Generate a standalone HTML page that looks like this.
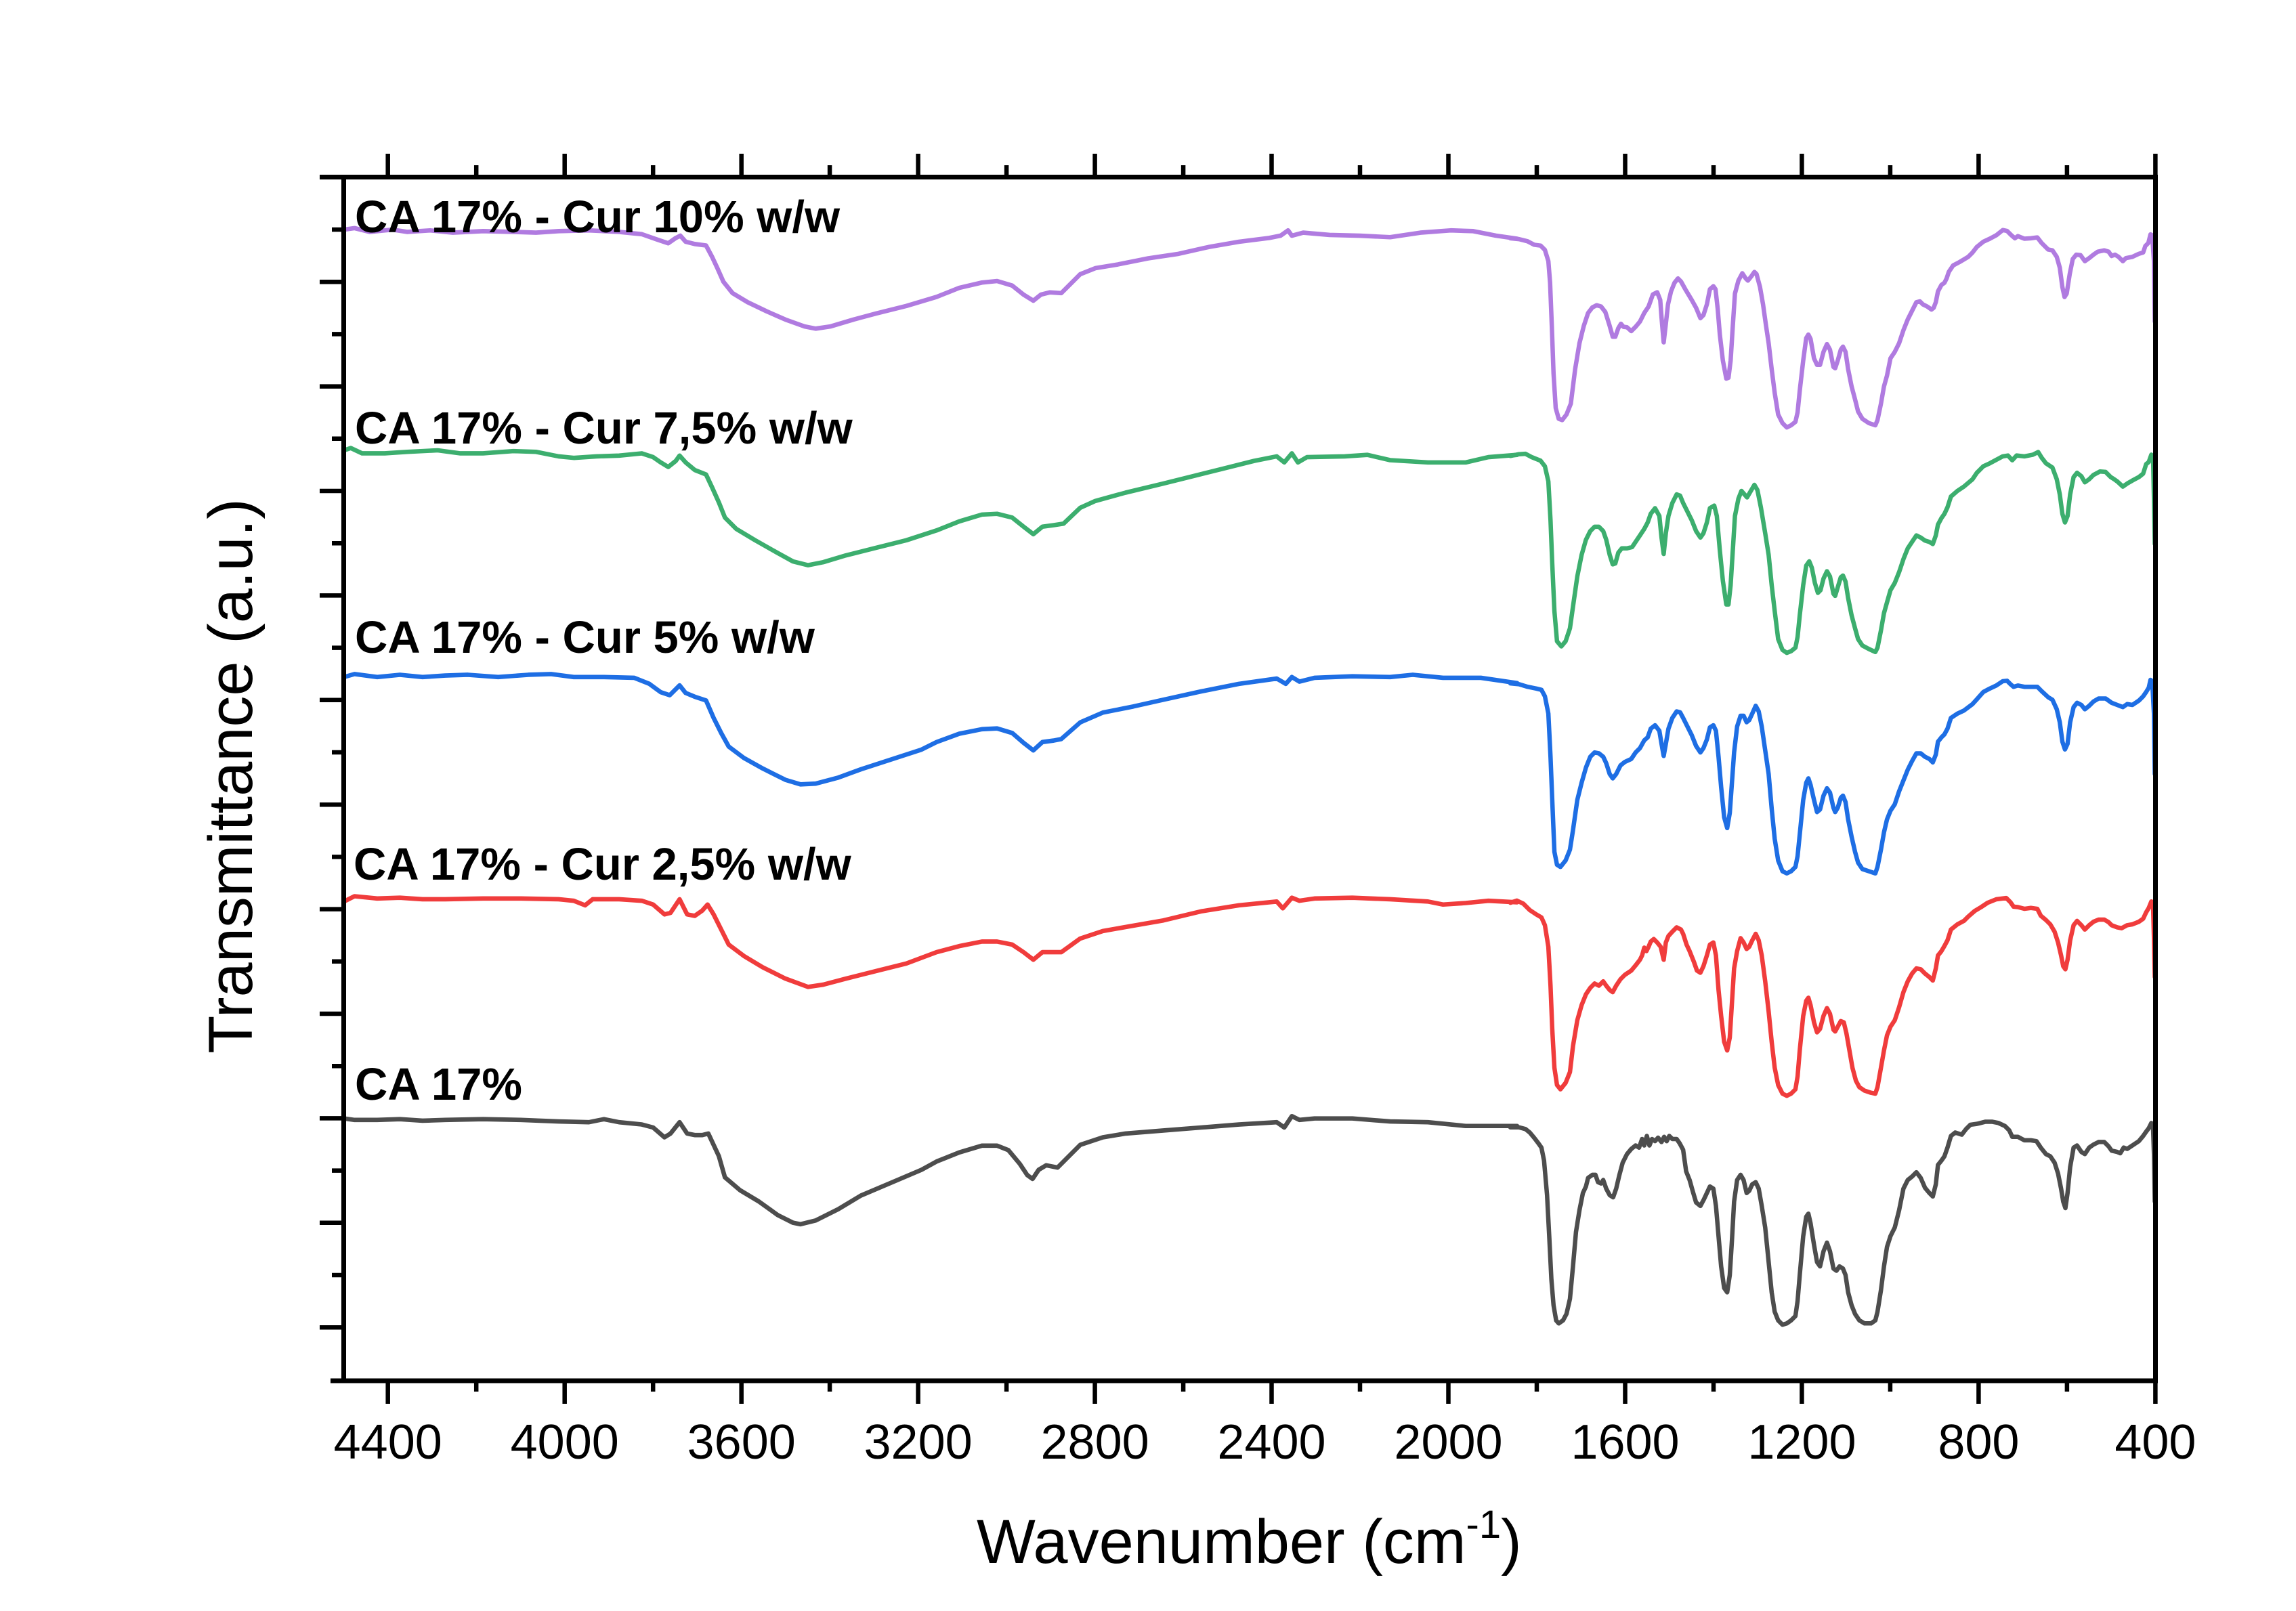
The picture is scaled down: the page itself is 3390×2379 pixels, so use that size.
<!DOCTYPE html>
<html><head><meta charset="utf-8"><style>
html,body{margin:0;padding:0;background:#fff;}
svg{display:block;}
text{font-family:"Liberation Sans",Arial,sans-serif;}
</style></head><body>
<svg xmlns="http://www.w3.org/2000/svg" width="3390" height="2379" viewBox="0 0 3390 2379">
<rect width="3390" height="2379" fill="#fff"/>

<!-- Left part of curves (zoom8 coords) -->
<g transform="translate(490,290) scale(1.11607)" fill="none" stroke-width="5.9" stroke-linejoin="round" stroke-linecap="round">
<polyline stroke="#B07BE0" points="16,44 30,42 50,47 80,44 100,47 130,45 160,48 200,46 240,47 270,48 300,46 340,45 380,47 410,50 430,57 445,62 455,55 461,52 468,60 480,63 495,65 503,80 510,95 518,113 530,128 550,140 575,152 600,163 625,172 640,175 660,172 690,163 720,155 760,145 800,133 830,121 860,114 880,112 900,118 915,130 928,138 938,130 950,127 965,128 975,118 990,103 1010,95 1040,90 1080,82 1120,76 1160,67 1200,60 1240,55 1255,52 1265,45 1270,52 1285,48 1320,51 1360,52 1400,54 1440,48 1480,45 1510,46 1540,52 1568,56"/>
<polyline stroke="#3CAE6E" points="16,336 25,333 40,340 70,340 100,338 140,336 170,340 200,340 240,337 270,338 300,344 320,346 350,344 380,343 410,340 425,345 435,352 445,358 455,350 460,343 468,352 480,362 495,368 503,385 512,405 520,425 535,440 560,455 590,472 610,483 630,488 650,484 680,475 720,465 760,455 800,442 830,430 860,421 880,420 900,425 915,437 928,447 940,437 955,435 968,433 990,412 1010,403 1050,392 1100,380 1140,370 1180,360 1220,350 1250,344 1260,352 1270,340 1278,352 1290,345 1340,344 1370,342 1400,349 1450,352 1500,352 1530,345 1568,342"/>
<polyline stroke="#1E6EE4" points="16,636 30,632 60,636 90,633 120,636 150,634 180,633 220,636 260,633 290,632 320,636 360,636 400,637 420,645 435,656 447,660 460,647 468,657 480,662 495,667 505,690 515,710 525,728 545,743 570,757 600,772 620,778 640,777 670,769 700,758 740,745 780,732 800,722 830,711 860,705 880,704 900,710 915,723 928,733 940,722 955,720 965,718 990,696 1020,683 1060,675 1100,666 1150,655 1200,645 1250,638 1262,645 1270,636 1280,642 1300,637 1350,635 1400,636 1430,633 1470,637 1520,637 1568,644"/>
<polyline stroke="#F03C3C" points="16,933 30,926 60,929 90,928 120,930 150,930 200,929 250,929 300,930 320,932 335,938 345,930 380,930 410,932 425,937 440,950 448,948 460,930 470,950 480,952 490,945 497,937 505,950 515,970 525,990 545,1005 570,1020 600,1035 630,1046 650,1043 680,1035 720,1025 760,1015 800,1000 830,992 860,986 880,986 900,990 915,1000 928,1010 940,1000 955,1000 965,1000 990,982 1020,972 1060,965 1100,958 1150,946 1200,938 1250,933 1258,942 1270,928 1280,932 1300,929 1350,928 1400,930 1450,933 1470,937 1500,935 1530,932 1568,934"/>
<polyline stroke="#4D4D4D" points="16,1220 30,1222 60,1222 90,1221 120,1223 150,1222 200,1221 250,1222 300,1224 340,1225 360,1221 380,1225 410,1228 425,1232 440,1245 448,1240 460,1225 470,1240 480,1242 490,1242 498,1240 505,1255 512,1270 520,1298 540,1315 565,1330 590,1348 610,1358 620,1360 640,1355 670,1340 700,1322 740,1305 780,1288 800,1277 830,1265 860,1256 880,1256 895,1262 910,1280 920,1295 927,1300 935,1288 945,1282 960,1285 975,1270 990,1255 1020,1245 1050,1240 1100,1236 1150,1232 1200,1228 1250,1225 1260,1232 1270,1217 1280,1222 1300,1220 1350,1220 1400,1224 1450,1225 1500,1230 1530,1230 1568,1230"/>
</g>

<!-- Right part: purple & green (zoom6 coords) -->
<g transform="translate(2230,290) scale(0.63776)" fill="none" stroke-width="10.2" stroke-linejoin="round" stroke-linecap="round">
<polyline stroke="#B07BE0" points="0,97 20,99 40,104 55,112 70,114 80,124 88,150 92,200 96,300 100,410 105,490 112,515 120,518 130,505 140,480 150,400 160,340 170,300 180,270 190,257 200,252 210,255 220,268 230,300 237,325 243,325 250,305 256,295 262,302 270,303 280,312 290,302 300,290 310,270 320,255 330,227 340,222 347,240 350,280 355,338 360,295 365,250 372,220 380,200 388,190 395,197 405,215 420,240 430,258 440,282 447,275 455,250 462,215 470,208 475,215 480,260 485,320 492,380 500,422 505,420 510,380 515,300 520,225 528,195 537,178 545,190 550,195 558,185 565,175 570,180 578,210 585,250 592,300 598,340 605,400 612,455 620,505 630,525 640,535 650,530 660,522 665,500 670,450 678,380 685,328 690,320 695,330 703,375 710,390 717,390 725,360 733,342 740,355 748,395 752,398 758,380 765,355 770,348 776,360 782,400 790,440 798,470 805,498 815,515 830,525 845,530 850,518 858,480 865,440 872,415 880,375 890,360 900,340 910,310 920,285 930,265 940,245 948,243 955,250 965,255 975,262 980,258 985,245 990,220 998,205 1005,200 1010,190 1015,175 1025,160 1040,152 1060,140 1070,130 1080,117 1095,105 1110,98 1125,90 1140,78 1150,80 1160,90 1168,97 1175,92 1190,98 1205,97 1220,95 1230,108 1245,123 1255,125 1265,140 1272,165 1278,210 1283,233 1288,225 1295,180 1302,145 1310,135 1320,136 1330,150 1340,143 1350,135 1360,128 1375,125 1385,128 1392,138 1400,135 1408,140 1418,150 1425,143 1440,140 1455,133 1465,130 1470,115 1477,108 1482,88 1486,90 1490,150 1492,290"/>
<polyline stroke="#3CAE6E" points="0,601 20,597 35,596 50,604 70,612 80,625 88,660 93,750 97,850 102,960 108,1030 118,1042 128,1030 138,1000 145,950 155,880 165,830 175,795 185,775 195,765 205,765 215,775 222,795 230,830 237,852 243,850 250,825 258,815 270,815 282,812 290,800 300,785 310,770 318,755 325,735 335,722 345,740 350,790 355,828 360,780 366,740 375,710 385,690 393,693 400,710 410,730 420,750 430,775 440,790 447,780 455,755 462,722 472,716 478,740 485,820 492,890 500,945 505,945 510,900 515,820 520,740 528,700 535,682 542,690 548,697 555,685 565,668 572,680 580,720 590,780 598,830 605,900 612,960 620,1025 630,1050 640,1057 650,1053 660,1045 665,1020 670,970 678,900 685,855 692,845 698,860 705,895 712,918 718,912 725,885 733,868 740,880 748,920 752,925 758,905 765,882 770,878 776,892 782,930 790,970 798,1000 805,1025 815,1040 830,1048 845,1055 850,1045 858,1005 865,965 872,940 880,912 890,895 900,870 910,840 920,815 930,800 940,785 950,790 960,797 970,800 978,805 985,785 990,760 998,745 1005,735 1012,720 1020,695 1035,682 1050,672 1070,655 1080,640 1095,625 1110,618 1125,610 1140,602 1152,600 1162,611 1172,600 1190,602 1210,598 1222,592 1230,605 1240,618 1255,628 1265,655 1272,690 1278,735 1284,755 1290,740 1296,690 1304,650 1312,640 1322,648 1330,662 1340,655 1350,645 1365,637 1378,638 1390,650 1398,655 1405,660 1418,672 1428,665 1440,658 1455,650 1465,642 1472,620 1478,615 1484,598 1488,605 1490,700 1492,805"/>
</g>

<!-- Right part: blue, red, gray (zoom7 coords) -->
<g transform="translate(2230,990) scale(0.63776)" fill="none" stroke-width="10.2" stroke-linejoin="round" stroke-linecap="round">
<polyline stroke="#1E6EE4" points="0,30 20,32 40,38 60,42 72,45 80,60 88,100 93,200 97,300 102,420 108,450 116,455 128,440 138,415 145,370 155,300 165,260 175,225 185,200 195,190 205,192 215,200 222,215 230,240 237,250 245,240 255,220 265,212 280,205 290,190 300,180 310,162 318,155 325,135 335,127 345,140 350,170 355,198 360,170 366,135 375,110 385,95 393,97 400,110 410,130 420,150 430,175 440,190 447,180 455,160 462,132 470,127 476,140 482,200 488,270 495,340 502,365 508,330 513,260 518,190 525,130 533,105 540,105 547,120 553,115 560,100 568,82 575,95 582,130 590,185 598,240 605,320 612,390 620,440 630,465 640,470 650,465 660,455 665,430 670,380 678,300 685,260 690,250 695,265 703,300 710,328 717,322 725,290 733,273 740,283 748,318 752,328 758,318 765,295 770,290 776,305 782,345 790,385 798,420 805,445 815,460 830,465 845,470 850,455 858,415 865,375 872,345 880,325 890,310 900,280 910,255 920,230 930,210 940,192 950,192 960,200 970,205 978,213 985,195 990,165 998,155 1005,148 1012,135 1020,110 1035,100 1050,93 1070,78 1080,67 1095,50 1110,42 1125,35 1140,25 1150,24 1158,32 1165,38 1175,35 1190,38 1205,38 1220,38 1230,48 1245,62 1255,68 1265,90 1272,120 1278,165 1284,183 1290,170 1296,120 1304,85 1312,75 1322,80 1330,90 1340,82 1350,72 1362,65 1378,65 1392,75 1405,80 1418,85 1428,78 1440,80 1455,70 1465,60 1472,50 1478,40 1482,22 1486,25 1490,100 1492,240"/>
<polyline stroke="#F03C3C" points="0,538 15,533 30,540 45,555 60,565 72,572 80,590 88,640 93,730 97,830 102,920 108,960 116,970 128,955 138,930 145,870 155,810 165,775 175,750 185,735 195,725 205,730 215,720 222,730 230,740 237,745 245,730 255,715 265,705 280,695 290,683 300,670 305,660 310,642 315,650 320,640 325,628 332,622 340,630 348,640 355,670 360,630 366,615 375,605 385,595 395,600 400,610 408,635 415,650 425,675 432,695 440,700 447,685 455,660 462,635 470,630 476,660 482,740 488,800 495,860 502,880 508,850 513,770 518,690 525,650 533,620 540,630 547,645 553,640 560,625 568,610 575,625 582,660 590,720 598,790 605,860 612,920 620,960 630,980 640,985 650,980 660,970 665,940 670,880 678,800 685,765 690,758 695,775 703,815 710,838 717,830 725,800 733,782 740,795 748,832 752,836 758,825 765,812 772,815 778,840 785,880 792,920 800,950 808,965 820,973 835,978 845,980 850,965 858,920 865,880 872,845 880,825 890,810 900,780 910,745 920,720 930,702 940,690 950,692 960,702 970,710 978,718 985,690 990,660 998,650 1005,638 1012,625 1020,600 1035,588 1050,580 1060,570 1075,557 1090,548 1105,538 1125,530 1148,527 1158,537 1165,547 1175,548 1190,552 1205,550 1220,552 1228,568 1240,578 1250,588 1260,605 1268,630 1275,660 1280,685 1285,692 1290,670 1296,625 1304,590 1312,580 1322,590 1330,600 1340,590 1350,582 1362,577 1375,577 1385,583 1392,590 1405,595 1415,597 1428,590 1440,588 1455,582 1465,575 1472,560 1478,550 1484,535 1488,545 1490,620 1492,710"/>
<polyline stroke="#4D4D4D" points="0,1058 20,1058 35,1062 45,1070 55,1082 65,1095 72,1105 78,1135 85,1215 90,1310 95,1410 100,1470 106,1505 112,1512 122,1505 130,1490 138,1455 145,1380 152,1300 160,1250 168,1210 175,1195 180,1175 190,1168 197,1168 203,1185 210,1188 215,1180 222,1200 230,1215 238,1220 245,1200 252,1170 260,1140 270,1120 280,1108 290,1100 298,1105 305,1085 310,1100 316,1078 322,1100 328,1085 335,1090 342,1082 350,1092 356,1080 362,1090 368,1078 375,1085 385,1085 392,1095 400,1110 407,1160 415,1180 422,1205 430,1232 440,1240 448,1225 455,1210 462,1195 470,1200 476,1240 482,1310 488,1380 495,1430 502,1440 508,1400 513,1320 518,1230 525,1180 533,1168 540,1180 547,1210 553,1205 560,1190 568,1185 575,1200 582,1240 590,1290 598,1370 605,1440 612,1485 620,1505 630,1515 640,1512 650,1505 660,1495 665,1460 670,1400 678,1310 685,1265 690,1258 695,1280 703,1330 710,1370 717,1380 725,1345 733,1325 740,1345 748,1385 755,1390 762,1380 770,1385 776,1400 782,1440 790,1470 798,1490 808,1505 820,1512 835,1512 845,1505 850,1485 858,1435 865,1380 872,1335 880,1310 890,1290 900,1250 910,1200 920,1180 930,1172 940,1162 950,1175 960,1198 970,1210 978,1218 985,1190 990,1145 998,1135 1005,1125 1012,1105 1020,1078 1030,1070 1045,1075 1055,1062 1065,1052 1080,1050 1100,1045 1115,1045 1130,1048 1145,1055 1155,1065 1162,1080 1175,1080 1190,1088 1205,1088 1218,1090 1228,1105 1240,1120 1250,1125 1260,1140 1268,1165 1275,1200 1280,1230 1285,1245 1290,1210 1296,1150 1304,1105 1312,1100 1322,1115 1330,1120 1340,1105 1350,1098 1362,1092 1375,1092 1385,1102 1392,1112 1405,1115 1412,1118 1420,1105 1428,1108 1440,1100 1455,1090 1465,1078 1472,1068 1478,1060 1484,1048 1488,1060 1490,1120 1492,1230"/>
</g>

<!-- Axes frame -->
<g stroke="#000" stroke-width="7" fill="none" stroke-linecap="butt">
<line x1="472" y1="261.5" x2="3186" y2="261.5"/>
<line x1="488" y1="2039" x2="3186" y2="2039"/>
<line x1="507.5" y1="258" x2="507.5" y2="2042.5"/>
<line x1="3182.5" y1="258" x2="3182.5" y2="2042.5"/>
</g>

<!-- Ticks -->
<g stroke="#000" stroke-width="6.5" fill="none">
<path d="M572.7 261.5V227 M833.7 261.5V227 M1094.7 261.5V227 M1355.6 261.5V227 M1616.6 261.5V227 M1877.5 261.5V227 M2138.5 261.5V227 M2399.5 261.5V227 M2660.4 261.5V227 M2921.4 261.5V227 M3182.4 261.5V227"/>
<path d="M703.2 261.5V244 M964.2 261.5V244 M1225.1 261.5V244 M1486.1 261.5V244 M1747.1 261.5V244 M2008 261.5V244 M2269 261.5V244 M2530 261.5V244 M2790.9 261.5V244 M3051.9 261.5V244"/>
<path d="M572.7 2039V2073 M833.7 2039V2073 M1094.7 2039V2073 M1355.6 2039V2073 M1616.6 2039V2073 M1877.5 2039V2073 M2138.5 2039V2073 M2399.5 2039V2073 M2660.4 2039V2073 M2921.4 2039V2073 M3182.4 2039V2073"/>
<path d="M703.2 2039V2055 M964.2 2039V2055 M1225.1 2039V2055 M1486.1 2039V2055 M1747.1 2039V2055 M2008 2039V2055 M2269 2039V2055 M2530 2039V2055 M2790.9 2039V2055 M3051.9 2039V2055"/>
<path d="M507.5 339H490 M507.5 493.4H490 M507.5 647.8H490 M507.5 802.2H490 M507.5 956.6H490 M507.5 1111H490 M507.5 1265.4H490 M507.5 1419.8H490 M507.5 1574.2H490 M507.5 1728.6H490 M507.5 1883H490"/>
<path d="M507.5 416.2H472 M507.5 570.6H472 M507.5 725H472 M507.5 879.4H472 M507.5 1033.8H472 M507.5 1188.2H472 M507.5 1342.6H472 M507.5 1497H472 M507.5 1651.4H472 M507.5 1805.8H472 M507.5 1960.2H472"/>
</g>

<!-- Tick labels -->
<g font-size="72" text-anchor="middle" fill="#000">
<text x="572.7" y="2154">4400</text>
<text x="833.7" y="2154">4000</text>
<text x="1094.7" y="2154">3600</text>
<text x="1355.6" y="2154">3200</text>
<text x="1616.6" y="2154">2800</text>
<text x="1877.5" y="2154">2400</text>
<text x="2138.5" y="2154">2000</text>
<text x="2399.5" y="2154">1600</text>
<text x="2660.4" y="2154">1200</text>
<text x="2921.4" y="2154">800</text>
<text x="3182.4" y="2154">400</text>
</g>

<!-- Axis titles -->
<text x="1442" y="2308" font-size="92" fill="#000">Wavenumber (cm<tspan font-size="58" dy="-37">-1</tspan><tspan dy="37">)</tspan></text>
<text transform="translate(372,1146) rotate(-90)" font-size="92" text-anchor="middle" fill="#000">Transmittance (a.u.)</text>

<!-- Series labels -->
<g font-size="67" font-weight="bold" fill="#000">
<text x="524" y="343">CA 17% - Cur 10% w/w</text>
<text x="524" y="655">CA 17% - Cur 7,5% w/w</text>
<text x="524" y="964">CA 17% - Cur 5% w/w</text>
<text x="522" y="1299">CA 17% - Cur 2,5% w/w</text>
<text x="524" y="1624">CA 17%</text>
</g>
</svg>
</body></html>
